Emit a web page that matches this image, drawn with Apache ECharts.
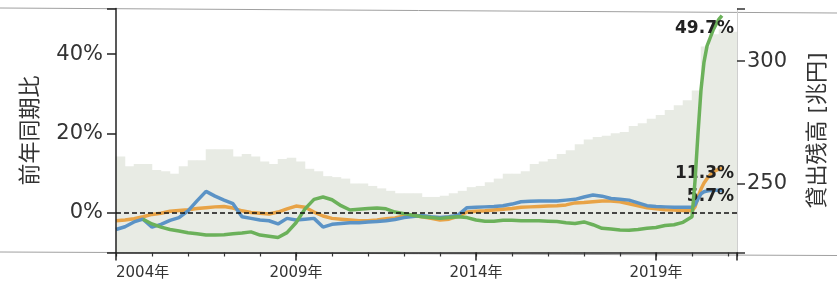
<!DOCTYPE html>
<html>
<head>
<meta charset="utf-8">
<script src="https://cdn.jsdelivr.net/npm/echarts@6/dist/echarts.min.js"></script>
<style>
  html, body { margin: 0; padding: 0; background: #fff; }
  #chart { width: 837px; height: 283px; }
</style>
</head>
<body>
<div id="chart"></div>
<script>
const startYear = 2004
const labelStep = 5        // 2004年, 2009年, 2014年, 2019年
const leftStep = 20        // 0%, 20%, 40%
const rightStep = 50       // 250, 300

// 貸出残高 (兆円), quarterly from 2004 Q1
const loanBalance = [
  261, 257, 258, 258,
  255.5, 255, 254, 257,
  259.5, 259.5, 264, 264,
  264, 261, 262, 261,
  259, 258, 260, 260.5,
  259, 256, 255, 253,
  252.6, 252, 250, 250,
  249, 248, 247, 246,
  246, 246, 244.5, 244.5,
  245, 246, 247, 248.5,
  249, 250.5, 252, 254,
  254, 255, 258, 259,
  260, 262, 263.6, 266,
  268, 269, 269.5, 270.5,
  271, 273.5, 274.6, 276.5,
  278, 280, 282, 284,
  288, 306, 311, 313,
  312
]

// 前年同期比 (%): quarterly to 2020-01, monthly after
const lineMonths = [
  '2004-01', '2004-04', '2004-07', '2004-10',
  '2005-01', '2005-04', '2005-07', '2005-10',
  '2006-01', '2006-04', '2006-07', '2006-10',
  '2007-01', '2007-04', '2007-07', '2007-10',
  '2008-01', '2008-04', '2008-07', '2008-10',
  '2009-01', '2009-04', '2009-07', '2009-10',
  '2010-01', '2010-04', '2010-07', '2010-10',
  '2011-01', '2011-04', '2011-07', '2011-10',
  '2012-01', '2012-04', '2012-07', '2012-10',
  '2013-01', '2013-04', '2013-07', '2013-10',
  '2014-01', '2014-04', '2014-07', '2014-10',
  '2015-01', '2015-04', '2015-07', '2015-10',
  '2016-01', '2016-04', '2016-07', '2016-10',
  '2017-01', '2017-04', '2017-07', '2017-10',
  '2018-01', '2018-04', '2018-07', '2018-10',
  '2019-01', '2019-04', '2019-07', '2019-10',
  '2020-01', '2020-02', '2020-03', '2020-04', '2020-05', '2020-06',
  '2020-07', '2020-08', '2020-09', '2020-10', '2020-11'
]

const blueYoY = [
  -4.2, -3.5, -2.3, -1.6,
  -3.6, -2.9, -1.9, -1.2,
  0.5, 3.0, 5.4, 4.2,
  3.2, 2.3, -1.0, -1.4,
  -1.8, -2.0, -2.8, -1.4,
  -1.8, -1.6, -1.4, -3.6,
  -2.9, -2.7, -2.5, -2.5,
  -2.3, -2.2, -2.0, -1.7,
  -1.2, -0.9, -0.7, -1.0,
  -1.2, -1.0, -0.6, 1.3,
  1.4, 1.5, 1.6, 1.8,
  2.2, 2.8, 2.9, 3.0,
  3.0, 3.0, 3.2, 3.4,
  4.0, 4.5, 4.2, 3.6,
  3.4, 3.2, 2.5, 1.8,
  1.6, 1.5, 1.4, 1.4,
  1.4, 2.0, 3.5, 4.8, 5.3, 5.5,
  5.6, 5.6, 5.7, 5.7, 5.7
]

const orangeYoY = [
  -2.0, -1.8, -1.5, -1.0,
  -0.4, -0.1, 0.4, 0.6,
  0.8, 1.1, 1.3, 1.5,
  1.6, 1.2, 0.5, 0.1,
  -0.1, -0.3, 0.2, 1.0,
  1.7, 1.4, 0.2, -0.8,
  -1.4, -1.6, -1.8, -2.0,
  -2.0, -1.8, -1.5, -1.3,
  -0.8, -0.6, -1.0, -1.4,
  -1.8, -1.6, -0.9, 0.2,
  0.4, 0.5, 0.7, 0.9,
  1.1, 1.4, 1.5, 1.6,
  1.7, 1.8, 2.0, 2.5,
  2.6, 2.8, 3.0, 3.0,
  2.8, 2.3, 1.8, 1.3,
  1.0, 0.8, 0.7, 0.6,
  0.5, 1.5, 4.0, 6.0, 7.5, 8.6,
  9.5, 10.2, 10.7, 11.0, 11.3
]

const greenYoY = [
  null, null, null, -1.6,
  -2.8, -3.6, -4.2, -4.6,
  -5.0, -5.3, -5.6, -5.6,
  -5.5, -5.3, -5.1, -4.8,
  -5.6, -5.9, -6.2, -5.0,
  -2.5, 1.0, 3.4, 4.0,
  3.3, 1.8, 0.7, 0.9,
  1.1, 1.2, 1.0, 0.2,
  -0.2, -0.6, -1.0, -1.2,
  -1.4, -1.2, -1.0, -1.2,
  -1.8, -2.1, -2.1, -1.9,
  -1.9, -2.0, -2.0, -2.0,
  -2.1, -2.2, -2.5, -2.7,
  -2.3, -3.0, -3.9, -4.1,
  -4.3, -4.4, -4.2, -3.9,
  -3.7, -3.2, -3.0, -2.4,
  -1.0, 8, 20, 31, 38, 42,
  44, 46, 47.5, 48.8, 49.7
]

const fontFamily = "'DejaVu Sans', 'Noto Sans CJK JP', sans-serif"
const xMax = 17.25

const toX = (ym) => {
  const [y, m] = ym.split('-').map(Number)
  return y - startYear + (m - 1) / 12
}

const isStep = (v, step) => Math.abs(v / step - Math.round(v / step)) < 1e-6

const endLabel = (offset) => ({
  show: true,
  position: 'inside',
  align: 'right',
  verticalAlign: 'middle',
  offset,
  fontSize: 17,
  fontWeight: 'bold',
  color: '#222',
  fontFamily,
  formatter: (p) => p.value[1].toFixed(1) + '%',
})

const toSeriesData = (values, offset) => values.map((v, i) => {
  const point = [toX(lineMonths[i]), v]
  if (i === values.length - 1) {
    return { value: point, label: endLabel(offset) }
  }
  return point
})

const lineSeries = (data, color, z) => ({
  type: 'line',
  xAxisIndex: 0,
  yAxisIndex: 0,
  data,
  symbol: 'circle',
  symbolSize: 0,
  showSymbol: true,
  silent: true,
  z,
  lineStyle: { width: 3.5, color },
  itemStyle: { color },
})

const myChart = echarts.init(document.getElementById('chart'))

const options = {
  animation: false,
  textStyle: { fontFamily },
  grid: {
    left: 116,
    right: 100,
    top: 8.5,
    bottom: 30.5,
    containLabel: false,
    outerBoundsMode: 'none',
  },
  graphic: [
    {
      type: 'line',
      silent: true,
      z: -1,
      shape: { x1: 0, y1: 8, x2: 837, y2: 13 },
      style: { stroke: '#a0a0a0', lineWidth: 1 },
    },
    {
      type: 'line',
      silent: true,
      z: -1,
      shape: { x1: 0, y1: 252, x2: 837, y2: 255.5 },
      style: { stroke: '#a0a0a0', lineWidth: 1 },
    },
  ],
  xAxis: [
    {
      type: 'value',
      position: 'bottom',
      min: 0,
      max: xMax,
      minInterval: 1,
      maxInterval: 1,
      z: 6,
      axisLine: { show: true, onZero: false, lineStyle: { color: '#222', width: 1.5 } },
      axisTick: { show: true, length: 4, lineStyle: { color: '#333', width: 1.2 } },
      axisLabel: {
        formatter: (v) => (isStep(v, labelStep) ? (startYear + Math.round(v)) + '年' : ''),
        fontSize: 15,
        color: '#333',
        margin: 13,
        alignMinLabel: 'left',
        hideOverlap: false,
      },
      splitLine: { show: false },
    },
    {
      type: 'value',
      position: 'bottom',
      min: 0,
      max: xMax,
      minInterval: labelStep,
      maxInterval: labelStep,
      z: 6,
      axisLine: { show: false, onZero: false },
      axisTick: { show: true, length: 8, lineStyle: { color: '#222', width: 1.5 } },
      axisLabel: { show: false },
      splitLine: { show: false },
    },
  ],
  yAxis: [
    {
      type: 'value',
      position: 'left',
      min: -10,
      max: 51.5,
      minInterval: leftStep,
      maxInterval: leftStep,
      z: 6,
      name: '前年同期比',
      nameLocation: 'middle',
      nameGap: 74,
      nameRotate: 90,
      nameMoveOverlap: false,
      nameTextStyle: { fontSize: 22, color: '#333' },
      axisLine: { show: true, onZero: false, lineStyle: { color: '#222', width: 1.5 } },
      axisTick: { show: true, length: 9, lineStyle: { color: '#222', width: 1.5 } },
      axisLabel: {
        formatter: (v) => (isStep(v, leftStep) ? Math.round(v) + '%' : ''),
        fontSize: 21,
        color: '#333',
        margin: 13,
      },
      splitLine: { show: false },
    },
    {
      type: 'value',
      position: 'right',
      min: 221.8,
      max: 321.5,
      minInterval: rightStep,
      maxInterval: rightStep,
      z: 6,
      name: '貸出残高 [兆円]',
      nameLocation: 'middle',
      nameGap: 70,
      nameRotate: 90,
      nameMoveOverlap: false,
      nameTextStyle: { fontSize: 22, color: '#333' },
      axisLine: { show: true, onZero: false, lineStyle: { color: '#cfcfcf', width: 1 } },
      axisTick: { show: true, length: 8, lineStyle: { color: '#333', width: 1.5 } },
      axisLabel: {
        formatter: (v) => (isStep(v, rightStep) ? String(Math.round(v)) : ''),
        fontSize: 21,
        color: '#333',
        margin: 10,
      },
      splitLine: { show: false },
    },
  ],
  series: [
    {
      type: 'bar',
      xAxisIndex: 0,
      yAxisIndex: 1,
      data: loanBalance.map((v, i) => [i / 4 + 0.125, v]),
      barWidth: 9.5,
      silent: true,
      z: 1,
      itemStyle: { color: '#e8ebe4' },
    },
    lineSeries(toSeriesData(orangeYoY, [12, 6]), '#e8a346', 3),
    lineSeries(toSeriesData(blueYoY, [12, 6]), '#5b93c6', 4),
    {
      ...lineSeries(toSeriesData(greenYoY, [12, 13]), '#6bb15a', 5),
      markLine: {
        silent: true,
        symbol: 'none',
        z: 10,
        label: { show: false },
        lineStyle: { color: '#111', type: [5, 3], width: 1.5 },
        data: [{ yAxis: 0 }],
      },
    },
  ],
}

myChart.setOption(options)
</script>
</body>
</html>
